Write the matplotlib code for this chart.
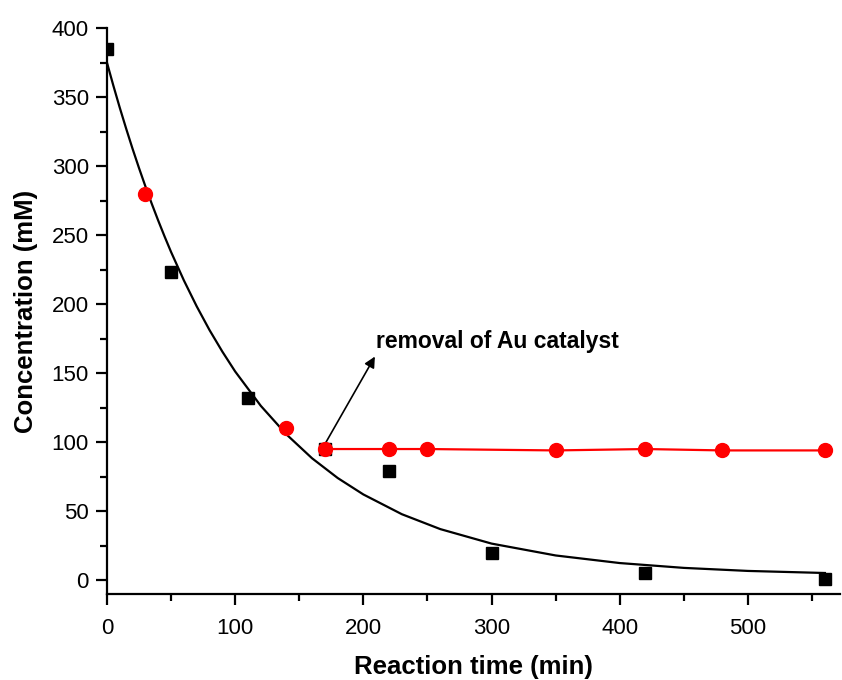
import matplotlib

matplotlib.use("Agg")
import matplotlib.pyplot as plt
from matplotlib.ticker import MultipleLocator

plt.rcParams["font.family"] = ["Liberation Sans", "DejaVu Sans"]

# measured concentration (black squares) with Au catalyst present
t_meas = [0, 50, 110, 170, 220, 300, 420, 560]
c_meas = [385, 223, 132, 95, 79, 20, 5, 1]

# first-order fit
t_fit = [0, 5, 10, 15, 20, 25, 30, 35, 40, 45, 50, 60, 70, 80, 90, 100,
         120, 140, 160, 180, 200, 230, 260, 300, 350, 400, 450, 500, 560]
c_fit = [375, 358.3, 342.3, 327.1, 312.5, 298.6, 285.3, 272.6, 260.5,
         248.9, 237.8, 217.2, 198.4, 181.2, 165.6, 151.2, 126.3, 105.6,
         88.3, 74.0, 62.1, 47.8, 37.0, 26.5, 17.9, 12.4, 8.9, 6.7, 5.2]

# run with catalyst removed at 170 min (red circles)
t_pre = [30, 140]
c_pre = [280, 110]
t_removed = [170, 220, 250, 350, 420, 480, 560]
c_removed = [95, 95, 95, 94, 95, 94, 94]

fig = plt.figure(figsize=(8.42, 6.8), dpi=100)
ax = fig.add_axes([0.127, 0.1265, 0.871, 0.8323])

ax.plot(t_fit, c_fit, color="black", lw=1.6, zorder=2)
ax.plot(t_meas, c_meas, "s", color="black", ms=8, zorder=3)
ax.plot(t_pre, c_pre, "o", color="red", ms=10, zorder=4)
ax.plot(t_removed, c_removed, "-o", color="red", ms=10, lw=1.6, zorder=4)

ax.annotate("", xy=(209, 162), xytext=(168.8, 96.6),
            arrowprops=dict(arrowstyle="-|>", color="black", lw=1.2,
                            mutation_scale=16, shrinkA=0, shrinkB=0))
ax.text(210, 173, "removal of Au catalyst", fontsize=16.5, fontweight="bold",
        va="center", ha="left")

ax.set_xlim(0, 572)
ax.set_ylim(-10, 400)
ax.xaxis.set_major_locator(MultipleLocator(100))
ax.xaxis.set_minor_locator(MultipleLocator(50))
ax.yaxis.set_major_locator(MultipleLocator(50))
ax.yaxis.set_minor_locator(MultipleLocator(25))

for side in ("top", "right"):
    ax.spines[side].set_visible(False)
for side in ("left", "bottom"):
    ax.spines[side].set_linewidth(1.6)

ax.tick_params(which="major", direction="out", length=8, width=1.6,
               labelsize=16)
ax.tick_params(axis="x", which="major", pad=9)
ax.tick_params(axis="y", which="major", pad=5)
ax.tick_params(which="minor", direction="out", length=5, width=1.6)

ax.set_xlabel("Reaction time (min)", fontsize=18.5, fontweight="bold", labelpad=12)
ax.set_ylabel("Concentration (mM)", fontsize=18.5, fontweight="bold", labelpad=10)

fig.savefig("out.png", dpi=100)
